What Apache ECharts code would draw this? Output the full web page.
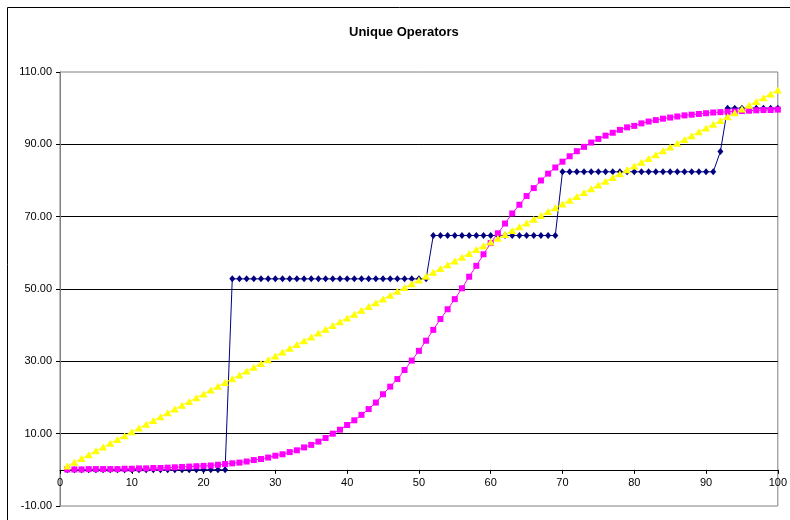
<!DOCTYPE html>
<html>
<head>
<meta charset="utf-8">
<script src="https://cdn.jsdelivr.net/npm/echarts@6/dist/echarts.min.js"></script>
<style>
  html, body { margin: 0; padding: 0; background: #fff; }
  #chart { width: 790px; height: 520px; }
</style>
</head>
<body>
<div id="chart"></div>
<script>
var xValues = [
  1, 2, 3, 4, 5, 6, 7, 8, 9, 10, 11, 12, 13, 14, 15, 16, 17, 18, 19, 20,
  21, 22, 23, 24, 25, 26, 27, 28, 29, 30, 31, 32, 33, 34, 35, 36, 37, 38, 39, 40,
  41, 42, 43, 44, 45, 46, 47, 48, 49, 50, 51, 52, 53, 54, 55, 56, 57, 58, 59, 60,
  61, 62, 63, 64, 65, 66, 67, 68, 69, 70, 71, 72, 73, 74, 75, 76, 77, 78, 79, 80,
  81, 82, 83, 84, 85, 86, 87, 88, 89, 90, 91, 92, 93, 94, 95, 96, 97, 98, 99, 100
];

// navy steps
var stepValues = [
  0, 0, 0, 0, 0, 0, 0, 0, 0, 0, 0, 0, 0, 0, 0, 0, 0, 0, 0, 0,
  0, 0, 0, 52.8, 52.8, 52.8, 52.8, 52.8, 52.8, 52.8, 52.8, 52.8, 52.8, 52.8, 52.8, 52.8, 52.8, 52.8, 52.8, 52.8,
  52.8, 52.8, 52.8, 52.8, 52.8, 52.8, 52.8, 52.8, 52.8, 52.8, 52.8, 64.8, 64.8, 64.8, 64.8, 64.8, 64.8, 64.8, 64.8, 64.8,
  64.8, 64.8, 64.8, 64.8, 64.8, 64.8, 64.8, 64.8, 64.8, 82.4, 82.4, 82.4, 82.4, 82.4, 82.4, 82.4, 82.4, 82.4, 82.4, 82.4,
  82.4, 82.4, 82.4, 82.4, 82.4, 82.4, 82.4, 82.4, 82.4, 82.4, 82.4, 88.0, 100, 100, 100, 100, 100, 100, 100, 100
];

// magenta s-curve
var curveValues = [
  0.1, 0.1, 0.1, 0.2, 0.2, 0.2, 0.2, 0.2, 0.3, 0.3,
  0.4, 0.4, 0.5, 0.5, 0.6, 0.7, 0.8, 0.9, 1.0, 1.1,
  1.2, 1.4, 1.6, 1.8, 2.0, 2.3, 2.7, 3.0, 3.4, 3.9,
  4.3, 4.9, 5.4, 6.2, 6.9, 7.8, 8.8, 10.0, 11.1, 12.4,
  13.7, 15.2, 16.8, 18.6, 20.9, 23.0, 25.1, 27.6, 30.2, 32.9,
  35.7, 38.7, 41.7, 44.4, 47.2, 50.2, 53.4, 56.4, 59.6, 62.7,
  65.4, 68.1, 70.9, 73.3, 75.7, 77.9, 80.0, 81.9, 83.6, 85.2,
  86.7, 88.1, 89.3, 90.5, 91.5, 92.4, 93.2, 94.0, 94.7, 95.1,
  95.8, 96.3, 96.7, 97.1, 97.4, 97.7, 98.0, 98.2, 98.4, 98.6,
  98.8, 98.9, 99.0, 99.1, 99.2, 99.3, 99.4, 99.5, 99.5, 99.6
];

// yellow straight line
var lineValues = [
  1.05, 2.10, 3.15, 4.20, 5.25, 6.30, 7.35, 8.40, 9.45, 10.50,
  11.55, 12.60, 13.65, 14.70, 15.75, 16.80, 17.85, 18.90, 19.95, 21.00,
  22.05, 23.10, 24.15, 25.20, 26.25, 27.30, 28.35, 29.40, 30.45, 31.50,
  32.55, 33.60, 34.65, 35.70, 36.75, 37.80, 38.85, 39.90, 40.95, 42.00,
  43.05, 44.10, 45.15, 46.20, 47.25, 48.30, 49.35, 50.40, 51.45, 52.50,
  53.55, 54.60, 55.65, 56.70, 57.75, 58.80, 59.85, 60.90, 61.95, 63.00,
  64.05, 65.10, 66.15, 67.20, 68.25, 69.30, 70.35, 71.40, 72.45, 73.50,
  74.55, 75.60, 76.65, 77.70, 78.75, 79.80, 80.85, 81.90, 82.95, 84.00,
  85.05, 86.10, 87.15, 88.20, 89.25, 90.30, 91.35, 92.40, 93.45, 94.50,
  95.55, 96.60, 97.65, 98.70, 99.75, 100.80, 101.85, 102.90, 103.95, 105.00
];

var yTicks = [-10, 10, 30, 50, 70, 90, 110];

function pairs(ys) {
  return xValues.map(function (x, i) { return [x, ys[i]]; });
}

var font = 'Liberation Sans, Arial, sans-serif';

var option = {
  animation: false,
  backgroundColor: '#fff',
  title: {
    text: 'Unique Operators',
    left: 344,
    top: 21,
    textStyle: { fontSize: 13, fontWeight: 'bold', color: '#000', fontFamily: font }
  },
  graphic: [{
    type: 'rect',
    silent: true,
    shape: { x: 7.5, y: 7.5, width: 820, height: 560 },
    style: { fill: 'none', stroke: '#000', lineWidth: 1 }
  }],
  grid: {
    left: 60,
    right: 12,
    top: 72,
    bottom: 14,
    show: true,
    borderColor: '#808080',
    borderWidth: 1,
    containLabel: false
  },
  xAxis: {
    type: 'value',
    min: 0,
    max: 100,
    interval: 10,
    // x axis crosses at y = 0 (10 units above the -10 bottom)
    offset: -36,
    axisLine: { show: true, onZero: true, onZeroAxisIndex: 0, lineStyle: { color: '#000', width: 1 } },
    axisTick: { show: true, length: 4, lineStyle: { color: '#000' } },
    axisLabel: { color: '#000', fontSize: 11, fontFamily: font, margin: 7 },
    splitLine: { show: false }
  },
  yAxis: {
    type: 'value',
    min: -10,
    max: 110,
    interval: 20,
    axisLine: { show: true, lineStyle: { color: '#808080', width: 1 } },
    axisTick: { show: true, length: 4, lineStyle: { color: '#000' }, customValues: yTicks },
    axisLabel: {
      color: '#000', fontSize: 11, fontFamily: font, margin: 8,
      customValues: yTicks,
      formatter: function (v) { return v.toFixed(2); }
    },
    splitLine: {
      show: true,
      showMinLine: false,
      showMaxLine: false,
      lineStyle: { color: '#000', width: 1 }
    }
  },
  series: [{
    name: 'steps',
    type: 'line',
    data: pairs(stepValues),
    symbol: 'diamond',
    symbolSize: [6, 7],
    lineStyle: { color: '#000080', width: 1 },
    itemStyle: { color: '#000080' }
  }, {
    name: 'curve',
    type: 'line',
    data: pairs(curveValues),
    symbol: 'rect',
    symbolSize: 6,
    lineStyle: { color: '#ff00ff', width: 1 },
    itemStyle: { color: '#ff00ff' }
  }, {
    name: 'linear',
    type: 'line',
    data: pairs(lineValues),
    symbol: 'triangle',
    symbolSize: [8, 7],
    lineStyle: { color: '#ffff00', width: 1 },
    itemStyle: { color: '#ffff00' }
  }]
};

var myChart = echarts.init(document.getElementById('chart'));
myChart.setOption(option);
</script>
</body>
</html>
